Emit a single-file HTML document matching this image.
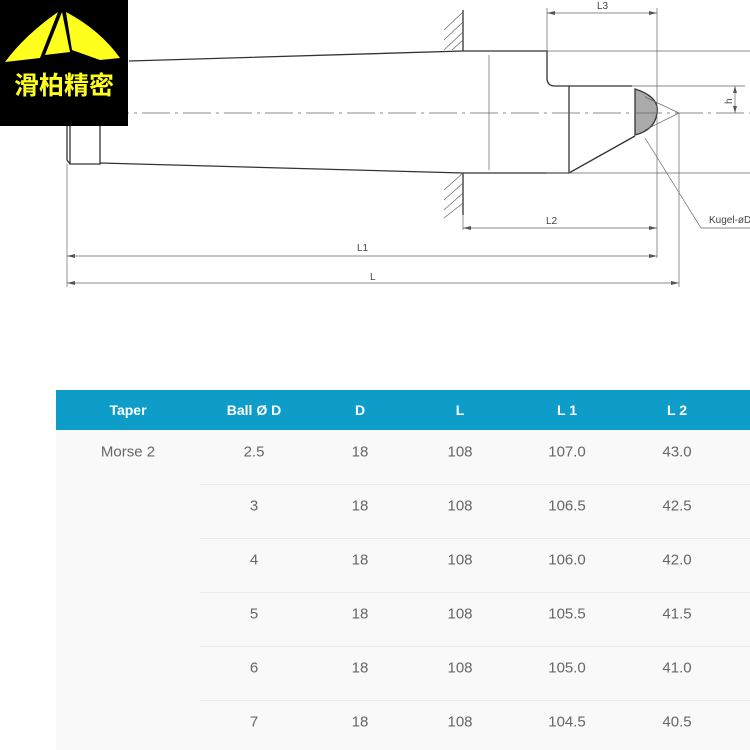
<!DOCTYPE html>
<html><head><meta charset="utf-8"><style>
body{margin:0;width:750px;height:750px;background:#fff;overflow:hidden;position:relative;font-family:"Liberation Sans",sans-serif}
.t{position:absolute;left:56px;top:390px;width:694px;height:360px;background:#f9f9f9}
.h{position:absolute;left:56px;top:390px;width:694px;height:40px;background:#0e9cc8}
.c{position:absolute;transform:translate(-50%,-50%);font-size:15px;color:#666;white-space:nowrap}
.hc{color:#fff;font-weight:bold;font-size:14px}
.sep{position:absolute;left:200px;width:550px;height:1px;background:#ebebeb}
</style></head><body>
<svg width="750" height="300" style="position:absolute;left:0;top:0" stroke="#333" fill="none" font-family="Liberation Sans" >
<g stroke-width="1.3">
<path d="M67,120 L67,160 L70,164 L100,164 L100,120 M70,120 L70,164"/>
<path d="M100,163 L463,173 L568,173"/>
<path d="M129,61 L463,51 L547,51 L547,78 Q547,86 555,86 L632,86"/>
<path d="M569,86 L569,173 L635,136"/>
<path d="M463,10 L463,51 M463,173 L463,215"/>
</g>
<path d="M635,89 Q660,97 657,113 Q655,130 635,135 Z" fill="#aaa" stroke="#333" stroke-width="1.3"/>
<g stroke-width="0.7" stroke="#666">
<path d="M444,30 L463,12 M444,40 L463,22 M444,50 L463,32 M452,50 L463,40 M444,190 L463,173 M444,200 L463,183 M444,210 L463,193 M444,218 L463,203"/>
<path d="M489,55 L489,170"/>
<path d="M60,113 L750,113" stroke-dasharray="28,5,3,5"/>
<path d="M547,8 L547,51 M657,8 L657,258 M679,113 L679,287 M67,164 L67,287 M463,215 L463,230"/>
<path d="M547,13 L657,13 M463,228 L657,228 M67,256 L657,256 M67,283 L679,283"/>
<path d="M547,51 L750,51 M547,173 L750,173 M632,86 L745,86 M735,86 L735,113"/>
<path d="M645,97 L679,113 L645,130"/>
<path d="M645,138 L701,228 L750,228"/>
</g>
<g fill="#555" stroke="none">
<path d="M547,13 l8,-2 v4z M657,13 l-8,-2 v4z M463,228 l8,-2 v4z M657,228 l-8,-2 v4z M67,256 l8,-2 v4z M657,256 l-8,-2 v4z M67,283 l8,-2 v4z M679,283 l-8,-2 v4z M735,86 l-2,7 h4z M735,113 l-2,-7 h4z"/>
</g>
<g font-size="10" fill="#444" stroke="none">
<text x="597" y="9">L3</text><text x="546" y="224">L2</text><text x="357" y="251">L1</text><text x="370" y="280">L</text>
<text x="709" y="223">Kugel-øD</text><text x="724" y="104" transform="rotate(-90 728 100)">h</text>
</g>
</svg>
<div style="position:absolute;left:0;top:0;width:128px;height:126px;background:#000">
<svg width="128" height="70" style="position:absolute;left:0;top:0"><g fill="#ffff1e">
<path d="M5,62 Q25,35 58,12 L40,58 Z"/><path d="M45,55 L62,12 L70,52 Z"/><path d="M72,50 L66,12 Q100,30 120,58 L100,60 Z"/></g></svg>
<div style="position:absolute;left:0;top:66px;width:128px;text-align:center;color:#ffff1e;font:bold 25px 'Noto Sans CJK SC',sans-serif">滑柏精密</div>
</div>
<div class="t"></div><div class="h"></div>
<div class="c hc" style="left:128px;top:410px">Taper</div><div class="c hc" style="left:254px;top:410px">Ball Ø D</div><div class="c hc" style="left:360px;top:410px">D</div><div class="c hc" style="left:460px;top:410px">L</div><div class="c hc" style="left:567px;top:410px">L 1</div><div class="c hc" style="left:677px;top:410px">L 2</div>
<div class="sep" style="top:484px"></div><div class="sep" style="top:538px"></div><div class="sep" style="top:592px"></div><div class="sep" style="top:646px"></div><div class="sep" style="top:700px"></div>
<div class="c" style="left:128px;top:452px">Morse 2</div>
<div class="c" style="left:254px;top:452px">2.5</div><div class="c" style="left:360px;top:452px">18</div><div class="c" style="left:460px;top:452px">108</div><div class="c" style="left:567px;top:452px">107.0</div><div class="c" style="left:677px;top:452px">43.0</div>
<div class="c" style="left:254px;top:506px">3</div><div class="c" style="left:360px;top:506px">18</div><div class="c" style="left:460px;top:506px">108</div><div class="c" style="left:567px;top:506px">106.5</div><div class="c" style="left:677px;top:506px">42.5</div>
<div class="c" style="left:254px;top:560px">4</div><div class="c" style="left:360px;top:560px">18</div><div class="c" style="left:460px;top:560px">108</div><div class="c" style="left:567px;top:560px">106.0</div><div class="c" style="left:677px;top:560px">42.0</div>
<div class="c" style="left:254px;top:614px">5</div><div class="c" style="left:360px;top:614px">18</div><div class="c" style="left:460px;top:614px">108</div><div class="c" style="left:567px;top:614px">105.5</div><div class="c" style="left:677px;top:614px">41.5</div>
<div class="c" style="left:254px;top:668px">6</div><div class="c" style="left:360px;top:668px">18</div><div class="c" style="left:460px;top:668px">108</div><div class="c" style="left:567px;top:668px">105.0</div><div class="c" style="left:677px;top:668px">41.0</div>
<div class="c" style="left:254px;top:722px">7</div><div class="c" style="left:360px;top:722px">18</div><div class="c" style="left:460px;top:722px">108</div><div class="c" style="left:567px;top:722px">104.5</div><div class="c" style="left:677px;top:722px">40.5</div>
</body></html>
